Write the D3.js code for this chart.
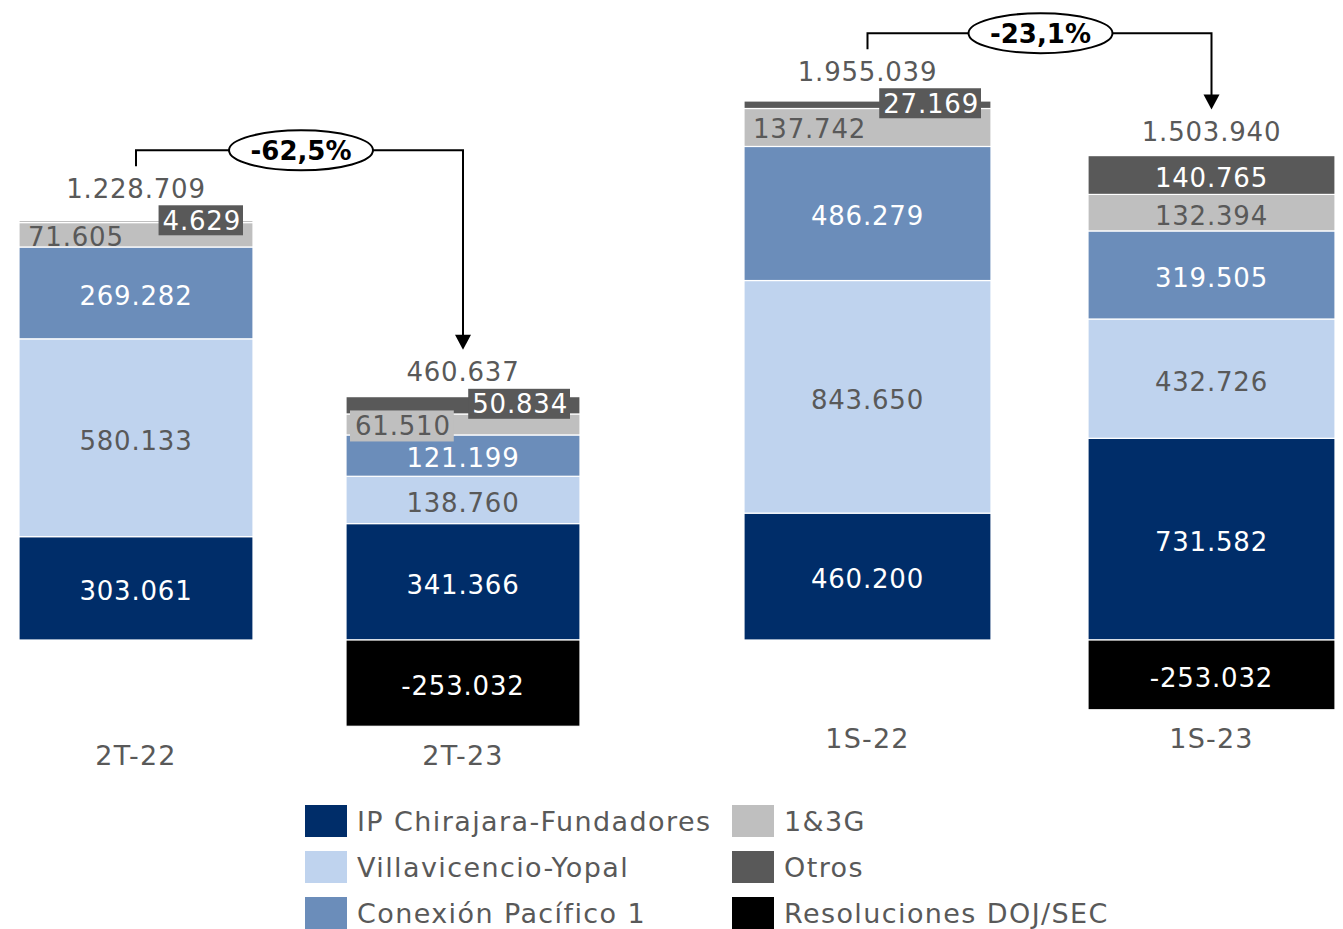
<!DOCTYPE html>
<html>
<head>
<meta charset="utf-8">
<script src="https://cdn.jsdelivr.net/npm/d3@7"></script>
<style>
  body { margin: 0; background: #fff; }
  svg text { font-family: "DejaVu Sans", sans-serif; }
</style>
</head>
<body>
<svg width="1343" height="929"></svg>
<script>
// data
const categories = ["2T-22", "2T-23", "1S-22", "1S-23"];
const seriesNames = ["IP Chirajara-Fundadores", "Villavicencio-Yopal", "Conexión Pacífico 1", "1&3G", "Otros", "Resoluciones DOJ/SEC"];
const chirajara = [303061, 341366, 460200, 731582];
const villavicencio = [580133, 138760, 843650, 432726];
const pacifico = [269282, 121199, 486279, 319505];
const g13 = [71605, 61510, 137742, 132394];
const otros = [4629, 50834, 27169, 140765];
const doj = [0, -253032, 0, -253032];
const totals = [1228709, 460637, 1955039, 1503940];
const changes = ["-62,5%", "-23,1%"];
const panels = [["2T-22", "2T-23"], ["1S-22", "1S-23"]];

const colors = ["#002D69", "#BFD3EE", "#6B8DBA", "#BFBFBF", "#595959", "#000000"];
const textOn = ["#fff", "#595959", "#fff", "#595959", "#fff", "#fff"];
const grey = "#595959";

const fmt = d3.formatLocale({decimal: ",", thousands: ".", grouping: [3], currency: ["$", ""], minus: "-"}).format(",");

const rows = categories.map((c, i) => ({
    cat: c,
    [seriesNames[0]]: chirajara[i],
    [seriesNames[1]]: villavicencio[i],
    [seriesNames[2]]: pacifico[i],
    [seriesNames[3]]: g13[i],
    [seriesNames[4]]: otros[i],
    [seriesNames[5]]: doj[i],
    total: totals[i]
}));

const stacked = d3.stack().keys(seriesNames).offset(d3.stackOffsetDiverging)(rows);

const svg = d3.select("svg");

const panelLayout = [
    {x0: 19, x1: 580, top: 221, pad: 0.2844},
    {x0: 744, x1: 1335, top: 101, pad: 0.282}
];
const baseline = 640;
const numSize = 26, numSpacing = 0.8;

function numText(sel) {
    return sel.attr("font-size", numSize).attr("letter-spacing", numSpacing);
}

panels.forEach((cats, p) => {
    const lay = panelLayout[p];
    const idx = cats.map(c => categories.indexOf(c));
    const maxPos = d3.max(idx, i => d3.max(stacked, s => s[i][1]));
    const minNeg = d3.min(idx, i => d3.min(stacked, s => s[i][0]));

    const x = d3.scaleBand().domain(cats).range([lay.x0, lay.x1]).paddingInner(lay.pad).paddingOuter(0);
    const y = d3.scaleLinear().domain([0, maxPos]).range([baseline, lay.top]);

    const g = svg.append("g");

    // segments
    stacked.forEach((s, k) => {
        g.selectAll(null)
            .data(idx.map(i => ({i, d: s[i]})).filter(o => o.d[1] !== o.d[0]))
            .join("rect")
            .attr("x", o => x(categories[o.i]))
            .attr("width", x.bandwidth())
            .attr("y", o => y(o.d[1]))
            .attr("height", o => y(o.d[0]) - y(o.d[1]))
            .attr("fill", colors[k])
            .attr("stroke", "#fff")
            .attr("stroke-width", 1.2);
    });

    const info = {};
    idx.forEach(i => {
        const cat = categories[i];
        const bx = x(cat), bw = x.bandwidth(), cx = bx + bw / 2;
        const top = y(stacked[4][i][1]);
        let boxTop = null;

        // "Otros" small -> boxed label at the right
        const so = stacked[4][i];
        const otrosSmall = (y(so[0]) - y(so[1])) < 25;

        stacked.forEach((s, k) => {
            const d = s[i];
            if (d[1] === d[0]) return;
            const y0 = y(d[0]), y1 = y(d[1]);
            const cy = (y0 + y1) / 2;
            const val = rows[i][seriesNames[k]];
            const label = fmt(val);

            if (k === 4 && otrosSmall) {
                const t = g.append("text").attr("text-anchor", "end")
                    .attr("x", bx + bw - 12).attr("y", cy - 1.5).attr("dy", "0.36em")
                    .attr("fill", "#fff").text(label).call(numText);
                const bb = t.node().getBBox();
                boxTop = cy - 1.5 - 15;
                g.insert("rect", () => t.node())
                    .attr("x", bb.x - 4).attr("width", bb.width + 6)
                    .attr("y", boxTop).attr("height", 30)
                    .attr("fill", colors[4]);
            } else if (k === 3 && otrosSmall) {
                const t = g.append("text").attr("text-anchor", "start")
                    .attr("x", bx + 9).attr("y", cy + 1.5).attr("dy", "0.36em")
                    .attr("fill", grey).text(label).call(numText);
                if (y0 - y1 < 22) {
                    const bb = t.node().getBBox();
                    g.insert("rect", () => t.node())
                        .attr("x", bb.x - 5).attr("width", bb.width + 8)
                        .attr("y", cy + 1 - 15).attr("height", 31)
                        .attr("fill", colors[3]);
                }
            } else {
                g.append("text").attr("text-anchor", "middle")
                    .attr("x", cx).attr("y", cy + 2.5).attr("dy", "0.36em")
                    .attr("fill", textOn[k]).text(label).call(numText);
            }
        });

        const totY = (boxTop !== null ? boxTop : top - 7) - 17;
        g.append("text").attr("text-anchor", "middle")
            .attr("x", cx).attr("y", totY).attr("dy", "0.36em")
            .attr("fill", grey).text(fmt(rows[i].total)).call(numText);
        info[cat] = {cx, totY};
    });

    // category labels
    const catY = y(minNeg) + 29;
    cats.forEach(c => {
        g.append("text").attr("text-anchor", "middle")
            .attr("x", x(c) + x.bandwidth() / 2).attr("y", catY).attr("dy", "0.36em")
            .attr("font-size", 27).attr("letter-spacing", 1.2).attr("fill", grey).text(c);
    });

    // bracket with arrow and percent change
    const a = info[cats[0]], b = info[cats[1]];
    const hy = a.totY - 38;
    const tipY = b.totY - 22;
    g.append("path")
        .attr("d", `M${a.cx},${a.totY - 22}V${hy}H${b.cx}V${tipY - 14}`)
        .attr("fill", "none").attr("stroke", "#000").attr("stroke-width", 2);
    g.append("path")
        .attr("d", `M${b.cx - 8},${tipY - 15}L${b.cx + 8},${tipY - 15}L${b.cx},${tipY}Z`)
        .attr("fill", "#000");
    const ecx = p === 0 ? a.cx + 165 : a.cx + 173;
    g.append("ellipse").attr("cx", ecx).attr("cy", hy).attr("rx", 72).attr("ry", 20)
        .attr("fill", "#fff").attr("stroke", "#000").attr("stroke-width", 2);
    g.append("text").attr("text-anchor", "middle")
        .attr("x", ecx).attr("y", hy).attr("dy", "0.36em")
        .attr("font-size", 26).attr("font-weight", "bold").attr("fill", "#000")
        .text(changes[p]);
});

// legend
const legend = svg.append("g");
seriesNames.forEach((s, k) => {
    const col = Math.floor(k / 3), row = k % 3;
    const lx = 305 + col * 427, ly = 821 + row * 46;
    legend.append("rect").attr("x", lx).attr("y", ly - 16).attr("width", 42).attr("height", 32).attr("fill", colors[k]);
    legend.append("text").attr("x", lx + 52).attr("y", ly).attr("dy", "0.36em")
        .attr("font-size", 27).attr("letter-spacing", 1.4).attr("fill", grey).text(s);
});
</script>
</body>
</html>
